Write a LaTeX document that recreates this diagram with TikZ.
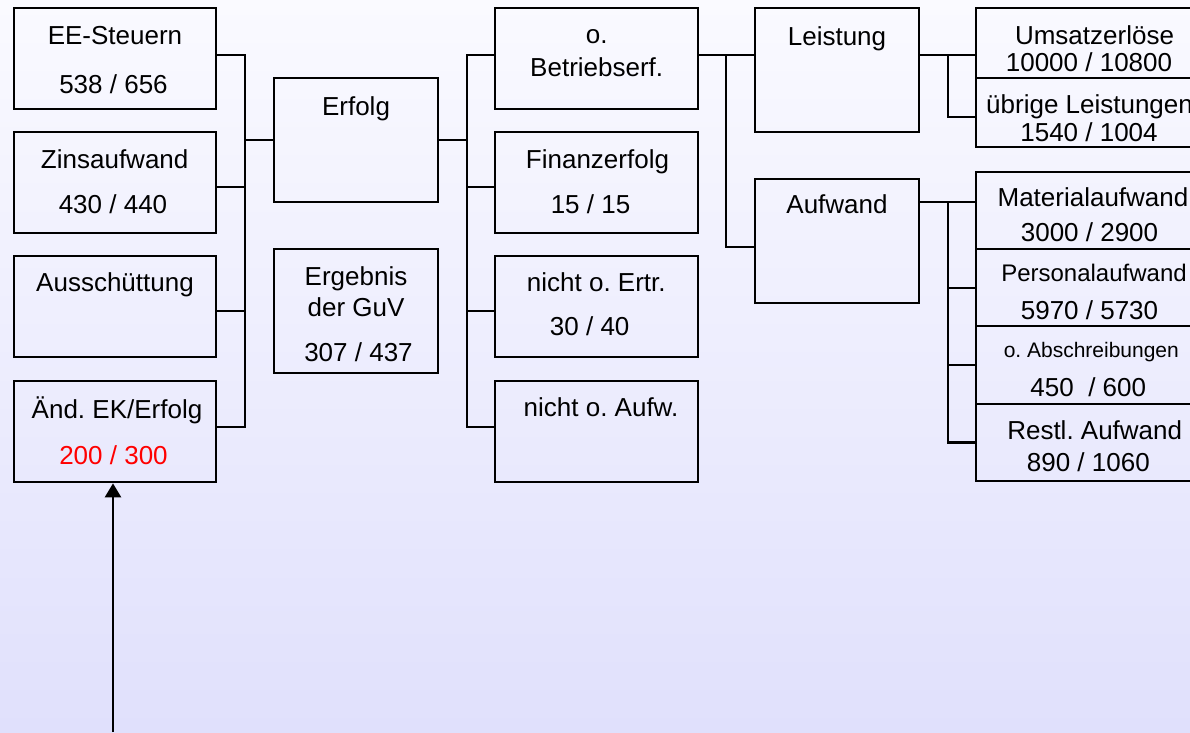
\documentclass[tikz,border=0pt]{standalone}
\usepackage{fontspec}
\setmainfont{Liberation Sans}
\usetikzlibrary{arrows.meta}
\definecolor{bgtop}{RGB}{250,250,255}
\definecolor{bgbot}{RGB}{224,224,252}
\frenchspacing
\begin{document}
\frenchspacing
\begin{tikzpicture}[x=1pt,y=-1pt,
  box/.style={draw=black, line width=2.7pt, inner sep=0pt},
  conn/.style={draw=black, line width=2.7pt},
  lbl/.style={anchor=base, inner sep=0pt, font=\fontsize{26}{30}\selectfont},
  lblm/.style={lbl, font=\fontsize{24}{28}\selectfont},
  lbls/.style={lbl, font=\fontsize{21}{25}\selectfont}]
\useasboundingbox (0,0) rectangle (1190,732);
\shade[top color=bgtop, bottom color=bgbot] (0,0) rectangle (1190,732);

% left column
\node[box, minimum width=202pt, minimum height=101pt] (ee)   at (115,58.5) {};
\node[box, minimum width=202pt, minimum height=101pt] (zins) at (115,182.5) {};
\node[box, minimum width=202pt, minimum height=101pt] (aus)  at (115,306.5) {};
\node[box, minimum width=202pt, minimum height=101pt] (aend) at (115,431.5) {};
% second column
\node[box, minimum width=164pt, minimum height=124pt] (erfolg) at (356,140) {};
\node[box, minimum width=164pt, minimum height=124pt] (erg)    at (356,311) {};
% third column
\node[box, minimum width=203pt, minimum height=101pt] (obe) at (596.5,58.5) {};
\node[box, minimum width=203pt, minimum height=101pt] (fin) at (596.5,182.5) {};
\node[box, minimum width=203pt, minimum height=101pt] (noe) at (596.5,306.5) {};
\node[box, minimum width=203pt, minimum height=101pt] (noa) at (596.5,431.5) {};
% fourth column
\node[box, minimum width=164pt, minimum height=124pt] (leist) at (837,70) {};
\node[box, minimum width=164pt, minimum height=124pt] (aufw)  at (837,241) {};
% fifth column
\node[box, minimum width=236pt, minimum height=70pt] (ums)  at (1094,43) {};
\node[box, minimum width=236pt, minimum height=69pt] (uebr) at (1094,112.5) {};
\node[box, minimum width=236pt, minimum height=77pt] (mat)  at (1094,210.5) {};
\node[box, minimum width=236pt, minimum height=77pt] (pers) at (1094,287.5) {};
\node[box, minimum width=236pt, minimum height=78pt] (abs)  at (1094,365) {};
\node[box, minimum width=236pt, minimum height=77pt] (rest) at (1094,442.5) {};

% texts
\node[lbl] (tee1) at (115,44.3) {EE-Steuern};
\node[lbl] (tee2) at (113.5,93.3) {538 / 656};
\node[lbl] (tzi1) at (114.7,168.3) {Zinsaufwand};
\node[lbl] (tzi2) at (113,213) {430 / 440};
\node[lbl] (tau1) at (115,291.7) {Ausschüttung};
\node[lbl] (tae1) at (117,418) {Änd. EK/Erfolg};
\node[lbl, text=red] (tae2) at (113.5,464) {200 / 300};
\node[lbl] (ter1) at (356,115) {Erfolg};
\node[lbl] (tgv1) at (356,285) {Ergebnis};
\node[lbl] (tgv2) at (356,316.7) {der GuV};
\node[lbl] (tgv3) at (358.5,361.7) {307 / 437};
\node[lbl] (tob1) at (596.7,43.3) {o.};
\node[lbl] (tob2) at (596.7,76) {Betriebserf.};
\node[lbl] (tfi1) at (597.5,168.3) {Finanzerfolg};
\node[lbl] (tfi2) at (590.5,213.3) {15 / 15};
\node[lbl] (tne1) at (596.3,291.7) {nicht o. Ertr.};
\node[lbl] (tne2) at (589.7,335) {30 / 40};
\node[lbl] (tna1) at (601,416) {nicht o. Aufw.};
\node[lbl] (tle1) at (837,45) {Leistung};
\node[lbl] (taw1) at (837,213.3) {Aufwand};
\node[lbl] (tum1) at (1094.5,44) {Umsatzerlöse};
\node[lbl] (tum2) at (1089,71.7) {10000 / 10800};
\node[lbl, anchor=base west] (tub1) at (986,113.3) {übrige Leistungen};
\node[lbl] (tub2) at (1089,141.7) {1540 / 1004};
\node[lbl] (tma1) at (1093,206.7) {Materialaufwand};
\node[lbl] (tma2) at (1089.5,241.7) {3000 / 2900};
\node[lblm] (tpe1) at (1094,281.7) {Personalaufwand};
\node[lbl] (tpe2) at (1089.5,319.3) {5970 / 5730};
\node[lbls] (tab1) at (1091.3,357.3) {o. Abschreibungen};
\node[lbl] (tab2) at (1088.3,396) {450 \ / 600};
\node[lbl] (tre1) at (1094.7,439.3) {Restl. Aufwand};
\node[lbl] (tre2) at (1088.3,471.7) {890 / 1060};

% bus 1
\coordinate (b1t) at (245,55);
\coordinate (b1b) at (245,427);
\draw[conn] ([yshift=3.5pt]ee.east) -- (b1t) -- (b1b) -- ([yshift=4.5pt]aend.east);
\draw[conn] ([yshift=-4.5pt]zins.east) -| (b1t);
\draw[conn] ([yshift=-4.5pt]aus.east) -| (b1t);
\draw[conn] (erfolg.west) -| (b1t);
% bus 2
\coordinate (b2t) at (467,55);
\coordinate (b2b) at (467,427);
\draw[conn] ([yshift=3.5pt]obe.west) -- (b2t) -- (b2b) -- ([yshift=4.5pt]noa.west);
\draw[conn] ([yshift=-4.5pt]fin.west) -| (b2t);
\draw[conn] ([yshift=-4.5pt]noe.west) -| (b2t);
\draw[conn] (erfolg.east) -| (b2t);
% bus 3
\coordinate (b3t) at (726,55);
\draw[conn] ([yshift=3.5pt]obe.east) -- ([yshift=15pt]leist.west);
\draw[conn] (b3t) |- ([yshift=-6pt]aufw.west);
% bus 4
\coordinate (b4t) at (948,55);
\draw[conn] ([yshift=15pt]leist.east) -- ([yshift=-12pt]ums.west);
\draw[conn] (b4t) |- ([yshift=-4.5pt]uebr.west);
\coordinate (b5t) at (948,202);
\draw[conn] ([yshift=39pt]aufw.east) -- ([yshift=8.5pt]mat.west);
\draw[conn] (b5t) |- ([yshift=-0.5pt]pers.west);
\draw[conn] (b5t) |- (abs.west);
\draw[conn] (b5t) |- (rest.west);

% arrow
\coordinate (arrstart) at (113,732);
\draw[line width=2.4pt, -{Triangle[width=16pt,length=14pt]}] (arrstart) -- (arrstart |- aend.south);
\end{tikzpicture}
\end{document}
